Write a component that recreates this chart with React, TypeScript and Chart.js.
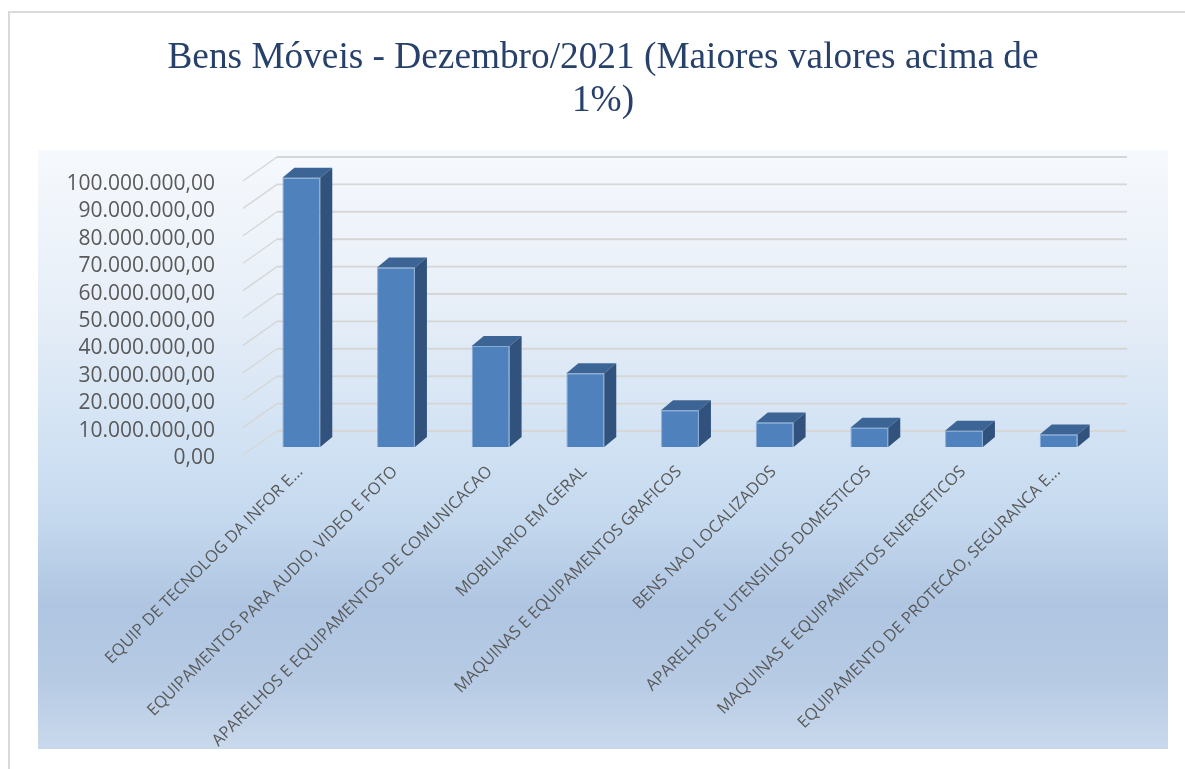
import React, { useEffect, useRef } from 'react';
import { Chart, registerables } from 'chart.js';

Chart.register(...registerables);

// ---------- data ----------
const TITLE_LINES: string[] = ['Bens Móveis - Dezembro/2021 (Maiores valores acima de', '1%)'];

const CATEGORIES: string[] = [
  'EQUIP DE TECNOLOG DA INFOR E...',
  'EQUIPAMENTOS PARA AUDIO, VIDEO E FOTO',
  'APARELHOS E EQUIPAMENTOS DE COMUNICACAO',
  'MOBILIARIO EM GERAL',
  'MAQUINAS E EQUIPAMENTOS GRAFICOS',
  'BENS NAO LOCALIZADOS',
  'APARELHOS E UTENSILIOS DOMESTICOS',
  'MAQUINAS E EQUIPAMENTOS ENERGETICOS',
  'EQUIPAMENTO DE PROTECAO, SEGURANCA E...',
];

const VALUES: number[] = [
  98300000,
  65500000,
  36900000,
  26900000,
  13400000,
  8900000,
  7050000,
  5950000,
  4600000,
];

const Y_MIN = 0;
const Y_MAX = 100000000;
const Y_STEP = 10000000;

// ---------- helpers ----------
function formatBR(v: number): string {
  const fixed = Math.abs(v).toFixed(2);
  const [intPart, dec] = fixed.split('.');
  const withDots = intPart.replace(/\B(?=(\d{3})+(?!\d))/g, '.');
  return (v < 0 ? '-' : '') + withDots + ',' + dec;
}

// ---------- style constants ----------
const W = 1185;
const H = 769;
const PANEL = { x0: 38, y0: 150, x1: 1168, y1: 749 };
const FRONT = { dx: -11, dy: 8 };
const BACK = { dx: 23, dy: -16 };
const BAR_DEPTH = { dx: 12, dy: -10 };
const GRID_COLOR = '#D6D6D6';
const FRONT_COLOR = '#4F81BD';
const TOP_COLOR = '#3C6495';
const SIDE_COLOR = '#30527D';
const TEXT_COLOR = '#595959';
const TITLE_COLOR = '#27416A';

const backgroundPlugin = {
  id: 'bgPanel',
  beforeDraw(chart: any) {
    const ctx = chart.ctx as CanvasRenderingContext2D;
    ctx.save();
    ctx.fillStyle = '#FFFFFF';
    ctx.fillRect(0, 0, W, H);
    // outer chart border
    ctx.strokeStyle = '#D9D9D9';
    ctx.lineWidth = 2;
    ctx.beginPath();
    ctx.moveTo(9, H + 2);
    ctx.lineTo(9, 12);
    ctx.lineTo(W + 2, 12);
    ctx.stroke();
    // plot panel gradient
    const g = ctx.createLinearGradient(0, PANEL.y0, 0, PANEL.y1);
    g.addColorStop(0, '#F6F9FD');
    g.addColorStop(0.25, '#E8EFF8');
    g.addColorStop(0.5, '#D0E1F3');
    g.addColorStop(0.62, '#C4D8EE');
    g.addColorStop(0.76, '#AFC5E1');
    g.addColorStop(0.88, '#B6CAE4');
    g.addColorStop(1, '#C9D9EC');
    ctx.fillStyle = g;
    ctx.fillRect(PANEL.x0, PANEL.y0, PANEL.x1 - PANEL.x0, PANEL.y1 - PANEL.y0);
    // title
    ctx.fillStyle = TITLE_COLOR;
    ctx.font = '37.3px "Liberation Serif", "Times New Roman", serif';
    ctx.textAlign = 'center';
    ctx.textBaseline = 'alphabetic';
    const cx = (PANEL.x0 + PANEL.x1) / 2;
    TITLE_LINES.forEach((line, i) => {
      ctx.fillText(line, cx, 68 + i * 43);
    });
    ctx.restore();
  },
};

const grid3dPlugin = {
  id: 'grid3d',
  beforeDatasetsDraw(chart: any) {
    const ctx = chart.ctx as CanvasRenderingContext2D;
    const yScale = chart.scales.y;
    const area = chart.chartArea;
    ctx.save();
    ctx.strokeStyle = GRID_COLOR;
    for (let v = Y_MIN; v <= Y_MAX; v += Y_STEP) {
      const y = yScale.getPixelForValue(v);
      // back wall horizontal
      ctx.lineWidth = 1.9;
      ctx.beginPath();
      ctx.moveTo(area.left + BACK.dx, y + BACK.dy);
      ctx.lineTo(area.right + BACK.dx - 2, y + BACK.dy);
      ctx.stroke();
      // left side wall diagonal
      ctx.lineWidth = 1.3;
      ctx.beginPath();
      ctx.moveTo(area.left + FRONT.dx, y + FRONT.dy);
      ctx.lineTo(area.left + BACK.dx, y + BACK.dy);
      ctx.stroke();
    }
    ctx.restore();
  },
};

const bars3dPlugin = {
  id: 'bars3d',
  afterDatasetsDraw(chart: any) {
    const ctx = chart.ctx as CanvasRenderingContext2D;
    const meta = chart.getDatasetMeta(0);
    ctx.save();
    meta.data.forEach((bar: any) => {
      const { x, y, base, width } = bar.getProps(['x', 'y', 'base', 'width'], true);
      const l = x - width / 2;
      const r = x + width / 2;
      const dx = BAR_DEPTH.dx;
      const dy = BAR_DEPTH.dy;
      // top face
      ctx.fillStyle = TOP_COLOR;
      ctx.beginPath();
      ctx.moveTo(l, y);
      ctx.lineTo(l + dx, y + dy);
      ctx.lineTo(r + dx, y + dy);
      ctx.lineTo(r, y);
      ctx.closePath();
      ctx.fill();
      // side face
      ctx.fillStyle = SIDE_COLOR;
      ctx.beginPath();
      ctx.moveTo(r, y);
      ctx.lineTo(r + dx, y + dy);
      ctx.lineTo(r + dx, base + dy);
      ctx.lineTo(r, base);
      ctx.closePath();
      ctx.fill();
    });
    ctx.restore();
  },
};

export default function App() {
  const canvasRef = useRef<HTMLCanvasElement | null>(null);

  useEffect(() => {
    if (!canvasRef.current) return;
    const chart = new Chart(canvasRef.current, {
      type: 'bar',
      data: {
        labels: CATEGORIES,
        datasets: [
          {
            data: VALUES,
            backgroundColor: FRONT_COLOR,
            borderColor: 'rgba(125,165,215,0.9)',
            borderWidth: 1,
            barPercentage: 0.4,
            categoryPercentage: 1,
          },
        ],
      },
      options: {
        animation: false,
        responsive: false,
        devicePixelRatio: 1,
        layout: { padding: { left: 0, top: 173, right: 79, bottom: 0 } },
        plugins: {
          legend: { display: false },
          title: { display: false },
          tooltip: { enabled: false },
        },
        scales: {
          x: {
            grid: { display: false, drawTicks: false },
            border: { display: false },
            ticks: {
              autoSkip: false,
              minRotation: 45,
              maxRotation: 45,
              padding: 15,
              labelOffset: -1,
              color: TEXT_COLOR,
              font: { family: '"Open Sans", sans-serif', size: 16.5 },
            },
            afterFit: (scale: any) => {
              scale.height = H - 447;
            },
          },
          y: {
            min: Y_MIN,
            max: Y_MAX,
            grid: { display: false, drawTicks: false },
            border: { display: false },
            ticks: {
              autoSkip: false,
              stepSize: Y_STEP,
              padding: 39,
              labelOffset: 11,
              color: TEXT_COLOR,
              font: { family: '"Open Sans", sans-serif', size: 21 },
              callback: (v: any) => formatBR(Number(v)),
            },
            afterFit: (scale: any) => {
              scale.width = 254;
            },
          },
        },
      },
      plugins: [backgroundPlugin, grid3dPlugin, bars3dPlugin],
    });
    return () => chart.destroy();
  }, []);

  return (
    <div style={{ position: 'absolute', left: 0, top: 0, width: W, height: H, background: '#fff', overflow: 'hidden' }}>
      <canvas ref={canvasRef} width={W} height={H} style={{ display: 'block', width: W, height: H }} />
    </div>
  );
}
